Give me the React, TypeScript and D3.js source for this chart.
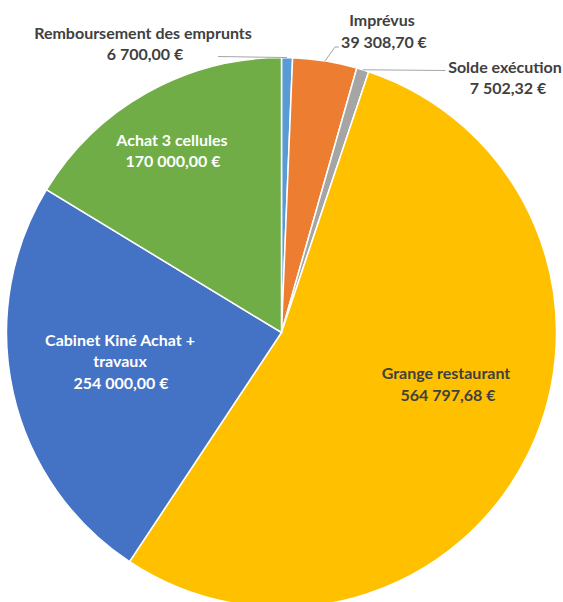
import React from "react";
import * as d3 from "d3";

const categories = [
  "Remboursement des emprunts",
  "Imprévus",
  "Solde exécution",
  "Grange restaurant",
  "Cabinet Kiné Achat + travaux",
  "Achat 3 cellules",
];
const values = [6700.0, 39308.7, 7502.32, 564797.68, 254000.0, 170000.0];
const valueLabels = ["6 700,00 €", "39 308,70 €", "7 502,32 €", "564 797,68 €", "254 000,00 €", "170 000,00 €"];
const nameLines = [
  ["Remboursement des emprunts"],
  ["Imprévus"],
  ["Solde exécution"],
  ["Grange restaurant"],
  ["Cabinet Kiné Achat +", "travaux"],
  ["Achat 3 cellules"],
];
const colors = ["#5B9BD5", "#ED7D31", "#A5A5A5", "#FFC000", "#4472C4", "#70AD47"];

// label layout (relative to the pie centre)
const labelPos = [
  { dx: -138.5, dy: -294, vx: -136.5, inside: false },
  { dx: 100.5, dy: -306.5, vx: 102.5, inside: false },
  { dx: 223.5, dy: -260, vx: 226.5, inside: false },
  { dx: 164.5, dy: 46.5, vx: 166.5, inside: false },
  { dx: -161.5, dy: 13, vx: -160.5, inside: true },
  { dx: -109.5, dy: -187, vx: -108.5, inside: true },
];
// leader line end points (relative to the centre), null = no leader
const leaderEnds: (number[][] | null)[] = [
  [[-63.5, -276]],
  [[53.5, -285.5], [57.5, -285.5]],
  [[164, -262]],
  null,
  null,
  null,
];

const W = 563;
const H = 602;
const cx = 281.5;
const cy = 332.5;
const R = 275;

export default function App() {
  const pie = d3
    .pie<number>()
    .sort(null)
    .value((d) => d);
  const arcs = pie(values);
  const arc = d3.arc<d3.PieArcDatum<number>>().innerRadius(0).outerRadius(R);
  const font = "Lato, 'Open Sans', sans-serif";
  const lh = 21.5;
  return (
    <svg
      width={W}
      height={H}
      style={{ position: "absolute", left: 0, top: 0, background: "#fff" }}
    >
      <g transform={`translate(${cx},${cy})`}>
        {arcs.map((a, i) => (
          <path key={i} d={arc(a) || ""} fill={colors[i]} stroke="#fff" strokeWidth={1.5} />
        ))}
        {arcs.map((a, i) => {
          const ends = leaderEnds[i];
          if (!ends) return null;
          const mid = (a.startAngle + a.endAngle) / 2;
          const sx = Math.sin(mid) * R;
          const sy = -Math.cos(mid) * R;
          const pts = [[sx, sy], ...ends];
          return (
            <path
              key={"l" + i}
              d={d3.line()(pts as [number, number][]) || ""}
              fill="none"
              stroke="#A6A6A6"
              strokeWidth={1}
            />
          );
        })}
        {arcs.map((a, i) => {
          const p = labelPos[i];
          const fill = p.inside ? "#fff" : "#404040";
          const lines = nameLines[i];
          return (
            <g key={"t" + i} fontFamily={font} fontWeight="bold" fontSize={16} fill={fill} textAnchor="middle">
              {lines.map((t, j) => (
                <text key={j} x={p.dx} y={p.dy + j * lh}>
                  {t}
                </text>
              ))}
              <text x={p.vx} y={p.dy + lines.length * lh}>
                {valueLabels[i]}
              </text>
            </g>
          );
        })}
      </g>
    </svg>
  );
}
